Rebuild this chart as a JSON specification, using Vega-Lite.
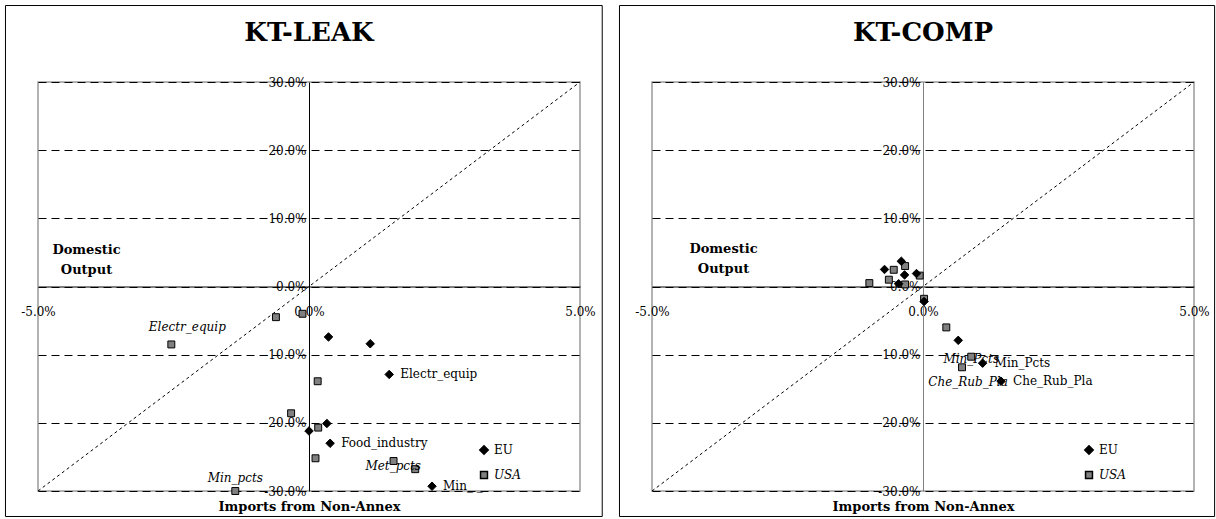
{
  "$schema": "https://vega.github.io/schema/vega-lite/v6.json",
  "padding": {"left": 4, "top": 4, "right": 0, "bottom": 0},
  "background": "white",
  "spacing": 14,
  "datasets": {
    "leak": [
      {"series": "USA", "x": -2.54, "y": -8.5, "label": "Electr_equip"},
      {"series": "USA", "x": -0.61, "y": -4.5, "label": null},
      {"series": "USA", "x": -0.12, "y": -4.0, "label": null},
      {"series": "USA", "x": 0.16, "y": -13.9, "label": null},
      {"series": "USA", "x": -0.33, "y": -18.6, "label": null},
      {"series": "USA", "x": 0.17, "y": -20.7, "label": null},
      {"series": "USA", "x": 0.12, "y": -25.2, "label": null},
      {"series": "USA", "x": 1.56, "y": -25.6, "label": null},
      {"series": "USA", "x": 1.96, "y": -26.8, "label": "Met_pcts"},
      {"series": "USA", "x": -1.36, "y": -30.0, "label": "Min_pcts"},
      {"series": "EU", "x": 0.36, "y": -7.4, "label": null},
      {"series": "EU", "x": 1.13, "y": -8.4, "label": null},
      {"series": "EU", "x": 1.48, "y": -12.9, "label": "Electr_equip"},
      {"series": "EU", "x": 0.33, "y": -20.1, "label": null},
      {"series": "EU", "x": 0.0, "y": -21.2, "label": null},
      {"series": "EU", "x": 0.39, "y": -23.0, "label": "Food_industry"},
      {"series": "EU", "x": 2.27, "y": -29.3, "label": "Min_ _"}
    ],
    "comp": [
      {"series": "USA", "x": -0.99, "y": 0.5, "label": null},
      {"series": "USA", "x": -0.63, "y": 1.0, "label": null},
      {"series": "USA", "x": -0.54, "y": 2.45, "label": null},
      {"series": "USA", "x": -0.33, "y": 3.0, "label": null},
      {"series": "USA", "x": -0.33, "y": 0.3, "label": null},
      {"series": "USA", "x": -0.06, "y": 1.6, "label": null},
      {"series": "USA", "x": 0.02, "y": -1.8, "label": null},
      {"series": "USA", "x": 0.43, "y": -6.0, "label": null},
      {"series": "USA", "x": 0.89, "y": -10.3, "label": "Min_Pcts"},
      {"series": "USA", "x": 0.72, "y": -11.85, "label": "Che_Rub_Pla"},
      {"series": "EU", "x": -0.71, "y": 2.5, "label": null},
      {"series": "EU", "x": -0.4, "y": 3.7, "label": null},
      {"series": "EU", "x": -0.34, "y": 1.7, "label": null},
      {"series": "EU", "x": -0.45, "y": 0.4, "label": null},
      {"series": "EU", "x": -0.12, "y": 1.9, "label": null},
      {"series": "EU", "x": 0.02, "y": -2.2, "label": null},
      {"series": "EU", "x": 0.65, "y": -7.9, "label": null},
      {"series": "EU", "x": 1.1, "y": -11.25, "label": "Min_Pcts"},
      {"series": "EU", "x": 1.44, "y": -13.9, "label": "Che_Rub_Pla"}
    ],
    "diag": [
      {"x": -5, "y": -30},
      {"x": 5, "y": 30}
    ]
  },
  "config": {
    "font": "DejaVu Serif",
    "view": {"stroke": "#9a9a9a", "strokeWidth": 1.5},
    "title": {"font": "DejaVu Serif", "fontSize": 26, "fontWeight": "bold", "color": "black", "anchor": "middle", "frame": "group", "offset": -41},
    "axis": {"labelFont": "DejaVu Serif", "titleFont": "DejaVu Serif", "labelColor": "black", "titleColor": "black", "labelFontSize": 12},
    "legend": {"labelFont": "DejaVu Serif"},
    "text": {"font": "DejaVu Serif", "fontSize": 12, "color": "black"}
  },
  "resolve": {
    "scale": {"color": "independent", "shape": "independent", "size": "independent"},
    "legend": {"color": "independent", "shape": "independent", "size": "independent"}
  },
  "hconcat": [
    {
      "title": {"text": "KT-LEAK"},
      "width": 542,
      "height": 409,
      "layer": [
        {
          "data": {"name": "leak"},
          "mark": {"type": "point", "filled": true, "stroke": "black", "strokeWidth": 1, "opacity": 1},
          "encoding": {
            "x": {"field": "x", "type": "quantitative", "scale": {"domain": [-5, 5], "nice": false, "zero": false},
              "axis": {"values": [-5, 0, 5], "labelExpr": "(datum.value < 0 ? '-' : '') + format(abs(datum.value), '.1f') + '%'", "offset": -204.5, "ticks": false, "labelPadding": 20, "labelFlush": false, "labelOverlap": false, "grid": false, "domainColor": "black", "domainWidth": 1,
                "title": "Imports from Non-Annex", "titleFontSize": 13, "titleFontWeight": "bold", "titleY": 220, "titleBaseline": "middle"}},
            "y": {"field": "y", "type": "quantitative", "scale": {"domain": [-30, 30], "nice": false, "zero": false},
              "axis": {"values": [-30, -20, -10, 0, 10, 20, 30], "labelExpr": "(datum.value < 0 ? '-' : '') + format(abs(datum.value), '.1f') + '%'", "offset": -271, "ticks": false, "labelPadding": 3, "labelFlush": false, "labelOverlap": false, "grid": true, "gridDash": [8, 5], "gridColor": "black", "gridWidth": 1, "gridOpacity": 1, "domainColor": "black", "domainWidth": 1,
                "title": ["Domestic", "Output"], "titleAngle": 0, "titleX": -223, "titleY": 167, "titleAlign": "center", "titleBaseline": "middle", "titleFontSize": 13, "titleFontWeight": "bold", "titleLineHeight": 20}},
            "shape": {"field": "series", "type": "nominal", "scale": {"domain": ["EU", "USA"], "range": ["diamond", "square"]},
              "legend": {"orient": "none", "legendX": 440, "legendY": 362, "title": null, "labelFontSize": 12, "labelColor": "black", "rowPadding": 10, "labelFontStyle": {"expr": "datum.label == 'USA' ? 'italic' : 'normal'"}}},
            "color": {"field": "series", "type": "nominal", "scale": {"domain": ["EU", "USA"], "range": ["black", "#808080"]},
              "legend": {"orient": "none", "legendX": 440, "legendY": 362, "title": null, "labelFontSize": 12, "labelColor": "black", "rowPadding": 10, "labelFontStyle": {"expr": "datum.label == 'USA' ? 'italic' : 'normal'"}}},
            "size": {"field": "series", "type": "nominal", "scale": {"domain": ["EU", "USA"], "range": [72, 48]},
              "legend": {"orient": "none", "legendX": 440, "legendY": 362, "title": null, "labelFontSize": 12, "labelColor": "black", "rowPadding": 10, "labelFontStyle": {"expr": "datum.label == 'USA' ? 'italic' : 'normal'"}}}
          }
        },
        {
          "data": {"values": [{}]},
          "mark": {"type": "rect", "filled": false, "stroke": "black", "strokeWidth": 1, "clip": false},
          "encoding": {
            "x": {"datum": -5.6, "type": "quantitative", "scale": {"domain": [-5, 5], "nice": false, "zero": false}},
            "x2": {"datum": 5.41},
            "y": {"datum": 41.22, "type": "quantitative", "scale": {"domain": [-30, 30], "nice": false, "zero": false}},
            "y2": {"datum": -33.74}
          }
        },
        {
          "data": {"name": "diag"},
          "mark": {"type": "line", "color": "black", "strokeWidth": 1, "strokeDash": [3, 3]},
          "encoding": {
            "x": {"field": "x", "type": "quantitative", "scale": {"domain": [-5, 5], "nice": false, "zero": false}},
            "y": {"field": "y", "type": "quantitative", "scale": {"domain": [-30, 30], "nice": false, "zero": false}}
          }
        },
        {
          "data": {"name": "leak"},
          "transform": [{"filter": "datum.series == 'EU' && isValid(datum.label)"}],
          "mark": {"type": "text", "align": "left", "baseline": "middle", "dx": 11},
          "encoding": {
            "x": {"field": "x", "type": "quantitative", "scale": {"domain": [-5, 5], "nice": false, "zero": false}},
            "y": {"field": "y", "type": "quantitative", "scale": {"domain": [-30, 30], "nice": false, "zero": false}},
            "text": {"field": "label"}
          }
        },
        {
          "data": {"name": "leak"},
          "transform": [{"filter": "datum.series == 'USA' && datum.label == 'Electr_equip'"}],
          "mark": {"type": "text", "align": "center", "baseline": "middle", "dx": 16, "dy": -17, "fontStyle": "italic"},
          "encoding": {
            "x": {"field": "x", "type": "quantitative", "scale": {"domain": [-5, 5], "nice": false, "zero": false}},
            "y": {"field": "y", "type": "quantitative", "scale": {"domain": [-30, 30], "nice": false, "zero": false}},
            "text": {"field": "label"}
          }
        },
        {
          "data": {"name": "leak"},
          "transform": [{"filter": "datum.series == 'USA' && datum.label == 'Met_pcts'"}],
          "mark": {"type": "text", "align": "center", "baseline": "middle", "dx": -22, "dy": -3, "fontStyle": "italic"},
          "encoding": {
            "x": {"field": "x", "type": "quantitative", "scale": {"domain": [-5, 5], "nice": false, "zero": false}},
            "y": {"field": "y", "type": "quantitative", "scale": {"domain": [-30, 30], "nice": false, "zero": false}},
            "text": {"field": "label"}
          }
        },
        {
          "data": {"name": "leak"},
          "transform": [{"filter": "datum.series == 'USA' && datum.label == 'Min_pcts'"}],
          "mark": {"type": "text", "align": "center", "baseline": "middle", "dx": 0, "dy": -13, "fontStyle": "italic"},
          "encoding": {
            "x": {"field": "x", "type": "quantitative", "scale": {"domain": [-5, 5], "nice": false, "zero": false}},
            "y": {"field": "y", "type": "quantitative", "scale": {"domain": [-30, 30], "nice": false, "zero": false}},
            "text": {"field": "label"}
          }
        }
      ]
    },
    {
      "title": {"text": "KT-COMP"},
      "width": 542,
      "height": 409,
      "layer": [
        {
          "data": {"name": "comp"},
          "mark": {"type": "point", "filled": true, "stroke": "black", "strokeWidth": 1, "opacity": 1},
          "encoding": {
            "x": {"field": "x", "type": "quantitative", "scale": {"domain": [-5, 5], "nice": false, "zero": false},
              "axis": {"values": [-5, 0, 5], "labelExpr": "(datum.value < 0 ? '-' : '') + format(abs(datum.value), '.1f') + '%'", "offset": -204.5, "ticks": false, "labelPadding": 20, "labelFlush": false, "labelOverlap": false, "grid": false, "domainColor": "black", "domainWidth": 1,
                "title": "Imports from Non-Annex", "titleFontSize": 13, "titleFontWeight": "bold", "titleY": 220, "titleBaseline": "middle"}},
            "y": {"field": "y", "type": "quantitative", "scale": {"domain": [-30, 30], "nice": false, "zero": false},
              "axis": {"values": [-30, -20, -10, 0, 10, 20, 30], "labelExpr": "(datum.value < 0 ? '-' : '') + format(abs(datum.value), '.1f') + '%'", "offset": -271, "ticks": false, "labelPadding": 3, "labelFlush": false, "labelOverlap": false, "grid": true, "gridDash": [8, 5], "gridColor": "black", "gridWidth": 1, "gridOpacity": 1, "domainColor": "#808080", "domainWidth": 1,
                "title": ["Domestic", "Output"], "titleAngle": 0, "titleX": -200, "titleY": 166, "titleAlign": "center", "titleBaseline": "middle", "titleFontSize": 13, "titleFontWeight": "bold", "titleLineHeight": 20}},
            "shape": {"field": "series", "type": "nominal", "scale": {"domain": ["EU", "USA"], "range": ["diamond", "square"]},
              "legend": {"orient": "none", "legendX": 431, "legendY": 362, "title": null, "labelFontSize": 12, "labelColor": "black", "rowPadding": 10, "labelFontStyle": {"expr": "datum.label == 'USA' ? 'italic' : 'normal'"}}},
            "color": {"field": "series", "type": "nominal", "scale": {"domain": ["EU", "USA"], "range": ["black", "#808080"]},
              "legend": {"orient": "none", "legendX": 431, "legendY": 362, "title": null, "labelFontSize": 12, "labelColor": "black", "rowPadding": 10, "labelFontStyle": {"expr": "datum.label == 'USA' ? 'italic' : 'normal'"}}},
            "size": {"field": "series", "type": "nominal", "scale": {"domain": ["EU", "USA"], "range": [72, 48]},
              "legend": {"orient": "none", "legendX": 431, "legendY": 362, "title": null, "labelFontSize": 12, "labelColor": "black", "rowPadding": 10, "labelFontStyle": {"expr": "datum.label == 'USA' ? 'italic' : 'normal'"}}}
          }
        },
        {
          "data": {"values": [{}]},
          "mark": {"type": "rect", "filled": false, "stroke": "black", "strokeWidth": 1, "clip": false},
          "encoding": {
            "x": {"datum": -5.6, "type": "quantitative", "scale": {"domain": [-5, 5], "nice": false, "zero": false}},
            "x2": {"datum": 5.38},
            "y": {"datum": 41.22, "type": "quantitative", "scale": {"domain": [-30, 30], "nice": false, "zero": false}},
            "y2": {"datum": -33.74}
          }
        },
        {
          "data": {"name": "diag"},
          "mark": {"type": "line", "color": "black", "strokeWidth": 1, "strokeDash": [3, 3]},
          "encoding": {
            "x": {"field": "x", "type": "quantitative", "scale": {"domain": [-5, 5], "nice": false, "zero": false}},
            "y": {"field": "y", "type": "quantitative", "scale": {"domain": [-30, 30], "nice": false, "zero": false}}
          }
        },
        {
          "data": {"name": "comp"},
          "transform": [{"filter": "datum.series == 'EU' && isValid(datum.label)"}],
          "mark": {"type": "text", "align": "left", "baseline": "middle", "dx": 12},
          "encoding": {
            "x": {"field": "x", "type": "quantitative", "scale": {"domain": [-5, 5], "nice": false, "zero": false}},
            "y": {"field": "y", "type": "quantitative", "scale": {"domain": [-30, 30], "nice": false, "zero": false}},
            "text": {"field": "label"}
          }
        },
        {
          "data": {"name": "comp"},
          "transform": [{"filter": "datum.series == 'USA' && datum.label == 'Min_Pcts'"}],
          "mark": {"type": "text", "align": "center", "baseline": "middle", "dx": 0, "dy": 2, "fontStyle": "italic"},
          "encoding": {
            "x": {"field": "x", "type": "quantitative", "scale": {"domain": [-5, 5], "nice": false, "zero": false}},
            "y": {"field": "y", "type": "quantitative", "scale": {"domain": [-30, 30], "nice": false, "zero": false}},
            "text": {"field": "label"}
          }
        },
        {
          "data": {"name": "comp"},
          "transform": [{"filter": "datum.series == 'USA' && datum.label == 'Che_Rub_Pla'"}],
          "mark": {"type": "text", "align": "center", "baseline": "middle", "dx": 6, "dy": 15, "fontStyle": "italic"},
          "encoding": {
            "x": {"field": "x", "type": "quantitative", "scale": {"domain": [-5, 5], "nice": false, "zero": false}},
            "y": {"field": "y", "type": "quantitative", "scale": {"domain": [-30, 30], "nice": false, "zero": false}},
            "text": {"field": "label"}
          }
        }
      ]
    }
  ]
}
